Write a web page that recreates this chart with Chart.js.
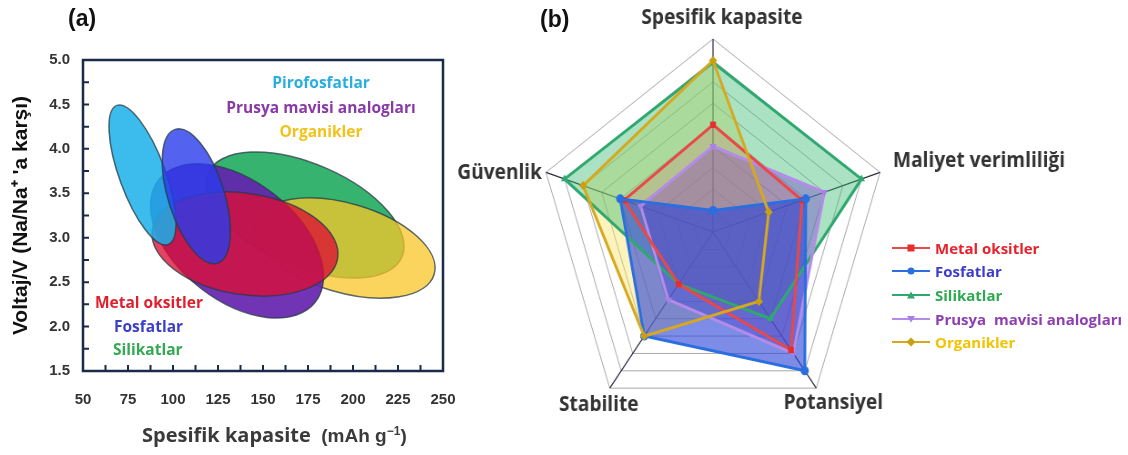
<!DOCTYPE html>
<html><head><meta charset="utf-8">
<script src="https://cdn.jsdelivr.net/npm/chart.js@4.4.1/dist/chart.umd.min.js"></script>
<style>
body{margin:0;width:1128px;height:455px;overflow:hidden;position:relative;background:#fff;font-family:"Open Sans",sans-serif}
.abs{position:absolute;white-space:pre;line-height:1}
.ann{font-family:"Open Sans",sans-serif;font-weight:700;font-size:15.5px}
#leg{position:absolute;left:892px;top:236px}
#leg .it{display:flex;align-items:center;height:23.6px;white-space:pre}
#leg .tx{font-family:"Open Sans",sans-serif;font-weight:700;font-size:15px;margin-left:5px}
</style></head><body>
<div id="pa" class="abs" style="left:0;top:0;width:460px;height:455px"><canvas id="ca" width="460" height="455"></canvas></div>
<div id="pb" class="abs" style="left:420px;top:0;width:740px;height:455px"><canvas id="cb" width="740" height="455"></canvas></div>

<div class="abs" style="left:68px;top:7px;font-family:'Liberation Sans',Arial;font-weight:bold;font-size:23px;color:#111">(a)</div>
<div class="abs" style="left:540px;top:8px;font-family:'Liberation Sans',Arial;font-weight:bold;font-size:23px;color:#111">(b)</div>

<div class="abs" style="left:142px;top:425px;color:#3a3a3a"><span style="font-family:'Open Sans';font-weight:700;font-size:20px">Spesifik kapasite</span><span style="font-family:'Liberation Sans',Arial;font-weight:bold;font-size:19px">  (mAh g<sup style="font-size:12px">−1</sup>)</span></div>

<div class="abs ann" style="left:321px;top:83px;transform:translate(-50%,-50%);color:#29aee0">Pirofosfatlar</div>
<div class="abs ann" style="left:321px;top:108px;transform:translate(-50%,-50%);color:#8a3aa6">Prusya mavisi analogları</div>
<div class="abs ann" style="left:321px;top:132px;transform:translate(-50%,-50%);color:#f3c21a">Organikler</div>
<div class="abs ann" style="left:95px;top:303px;transform:translateY(-50%);color:#e01e2c">Metal oksitler</div>
<div class="abs ann" style="left:114px;top:327px;transform:translateY(-50%);color:#3b3fc8">Fosfatlar</div>
<div class="abs ann" style="left:113px;top:350px;transform:translateY(-50%);color:#34a853">Silikatlar</div>

<div id="leg"></div>

<script>
// ---------- Panel (a): voltage vs specific capacity regions ----------
const capMajor = [50, 75, 100, 125, 150, 175, 200, 225, 250];
const voltMajor = [1.5, 2.0, 2.5, 3.0, 3.5, 4.0, 4.5, 5.0];

const ellipseNames   = ['Silikatlar', 'Organikler', 'Prusya mavisi analogları', 'Metal oksitler', 'Pirofosfatlar', 'Fosfatlar'];
const capLow         = [119.5, 146.1, 92.0, 88.5, 68.8, 101.2];   // capacity at one end of long axis
const voltAtCapLow   = [3.727, 3.179, 3.651, 3.089, 4.489, 4.219];
const capHigh        = [227.2, 245.1, 179.1, 191.5, 97.3, 124.7]; // capacity at other end of long axis
const voltAtCapHigh  = [2.784, 2.589, 2.276, 2.770, 2.923, 2.713];
const widthRatio     = [0.486, 0.48, 0.60, 0.54, 0.31, 0.40];
const ellipseFill    = ['rgba(38,172,100,0.92)', 'rgba(250,198,40,0.75)', 'rgba(100,35,175,0.92)',
                        'rgba(220,14,52,0.78)', 'rgba(28,176,234,0.86)', 'rgba(40,60,235,0.80)'];

// ---------- Panel (b): radar ----------
const radarAxes = ['Spesifik kapasite', 'Maliyet verimliliği', 'Potansiyel', 'Stabilite', 'Güvenlik'];
const metalOksitler = [5, 4.8, 6.8, 3, 4.8];
const fosfatlar     = [1, 5, 8, 6, 5];
const silikatlar    = [7.9, 8, 5, 3, 8];
const prusyaMavisi  = [4, 6, 7, 3.9, 3.9];
const organikler    = [8, 3, 4, 6, 7];
const seriesNames   = ['Metal oksitler', 'Fosfatlar', 'Silikatlar', 'Prusya  mavisi analogları', 'Organikler'];

const SX = 0.91;

function withMinor(arr){
  const out=[];
  arr.forEach((v,i)=>{ out.push(v); if(i<arr.length-1) out.push((v+arr[i+1])/2); });
  return out;
}

const ellipsePlugin = {
  id:'ellipses',
  beforeDatasetsDraw(chart){
    const {ctx, chartArea:a, scales:{x,y}} = chart;
    ctx.save();
    ctx.beginPath(); ctx.rect(a.left,a.top,a.width,a.height); ctx.clip();
    ellipseNames.forEach((n,i)=>{
      const x1=x.getPixelForValue(capLow[i]), y1=y.getPixelForValue(voltAtCapLow[i]);
      const x2=x.getPixelForValue(capHigh[i]), y2=y.getPixelForValue(voltAtCapHigh[i]);
      const cx=(x1+x2)/2, cy=(y1+y2)/2, rx=Math.hypot(x2-x1,y2-y1)/2, ry=rx*widthRatio[i];
      const rot=Math.atan2(y2-y1,x2-x1);
      ctx.beginPath(); ctx.ellipse(cx,cy,rx,ry,rot,0,Math.PI*2);
      ctx.fillStyle=ellipseFill[i]; ctx.fill();
      ctx.lineWidth=1.5; ctx.strokeStyle='rgba(40,60,70,0.75)'; ctx.stroke();
    });
    ctx.restore();
  }
};

const framePlugin = {
  id:'frame',
  afterDraw(chart){
    const {ctx, chartArea:a, scales:{x,y}} = chart;
    ctx.save();
    ctx.strokeStyle='#1b2a48'; ctx.lineWidth=2;
    ctx.beginPath();
    x.ticks.forEach(t=>{ const p=x.getPixelForValue(t.value); ctx.moveTo(p,a.bottom); ctx.lineTo(p,a.bottom-6); });
    y.ticks.forEach(t=>{ const p=y.getPixelForValue(t.value); ctx.moveTo(a.left,p); ctx.lineTo(a.left+6,p); });
    ctx.stroke();
    ctx.lineWidth=2.5;
    ctx.strokeRect(a.left,a.top,a.width,a.height);
    ctx.restore();
  }
};

const tickFont = {family:"'Liberation Sans', Arial", size:15, weight:'bold'};

new Chart(document.getElementById('ca'), {
  type:'scatter',
  data:{datasets:[]},
  options:{
    responsive:false, animation:false, events:[],
    layout:{padding:{top:60,right:17,left:0,bottom:0}},
    plugins:{legend:{display:false}, tooltip:{enabled:false}},
    scales:{
      x:{type:'linear', min:50, max:250,
         afterBuildTicks(s){ s.ticks = withMinor(capMajor).map(v=>({value:v})); },
         afterFit(s){ s.height = 84; s.paddingLeft = 0; s.paddingRight = 0; },
         grid:{display:false, drawTicks:false}, border:{display:false},
         ticks:{autoSkip:false, maxRotation:0, padding:20, color:'#333', font:tickFont,
                callback:v=>capMajor.includes(v)?String(v):''}},
      y:{type:'linear', min:1.5, max:5.0,
         afterBuildTicks(s){ s.ticks = withMinor(voltMajor).map(v=>({value:v})); },
         afterFit(s){ s.width = 83; s.paddingTop = 0; s.paddingBottom = 0; },
         grid:{display:false, drawTicks:false}, border:{display:false},
         ticks:{autoSkip:false, padding:13, color:'#333', font:tickFont,
                callback:v=>voltMajor.includes(v)?v.toFixed(1):''},
         title:{display:true, text:"Voltaj/V (Na/Na⁺ 'a karşı)", color:'#111',
                font:{family:"'Liberation Sans', Arial", size:21, weight:'bold'}, padding:{top:9,bottom:0}}}
    }
  },
  plugins:[ellipsePlugin, framePlugin]
});

// ---------- radar ----------
const pb = document.getElementById('pb');
const radarCenterX = 100 + 193;
pb.style.transformOrigin = radarCenterX + 'px 0px';
pb.style.transform = 'scaleX(' + SX + ')';

const labelPlacement = [
  {dx:9,  dy:-21, align:'center'},
  {dx:13, dy:-11, align:'left'},
  {dx:17, dy:15,  align:'center'},
  {dx:-11,dy:17,  align:'center'},
  {dx:-4, dy:1,   align:'right'}
];

const radarLabelPlugin = {
  id:'radarLabels',
  afterDraw(chart){
    const {ctx} = chart; const s = chart.scales.r;
    ctx.save();
    ctx.font = "bold 21px 'Open Sans'"; ctx.fillStyle='#333'; ctx.textBaseline='middle';
    radarAxes.forEach((t,i)=>{
      const p = s.getPointPosition(i, s.drawingArea); const o = labelPlacement[i];
      ctx.textAlign = o.align;
      ctx.fillText(t, p.x + o.dx/SX, p.y + o.dy);
    });
    ctx.restore();
  }
};

const lineColors  = ['#e84848', '#2a6ee0', '#2fa870', '#b48ce8', '#d6a820'];
const pointColors = ['#e52e2e', '#2a6ee0', '#2fa870', '#a880e6', '#c9a010'];
const fillColors  = ['rgba(225,85,85,0.20)', 'rgba(45,70,215,0.62)', 'rgba(55,185,115,0.42)',
                     'rgba(125,95,200,0.50)', 'rgba(250,225,90,0.40)'];
const pointStyles = ['rect', 'circle', 'triangle', 'triangle', 'rectRot'];
const pointRot    = [0, 0, 0, 180, 0];
const fillOrder   = [2, 1, 4, 3, 10];   // fills stacked: organic (bottom), green, purple, red, blue (top)
const lineOrder   = [2, 1, 4, 3, 0];    // lines: organic on top
const seriesData  = [metalOksitler, fosfatlar, silikatlar, prusyaMavisi, organikler];
const legendText  = ['#e8212b', '#3c3cc8', '#2fa84f', '#8e3fae', '#f2c300'];

const radarSets = seriesData.map((d,i)=>({
  label: seriesNames[i], data: d, fill: i !== 4,
  borderColor: lineColors[i], backgroundColor: fillColors[i], borderWidth: 3,
  pointStyle: pointStyles[i], pointRotation: pointRot[i], pointRadius: 4.5,
  pointBackgroundColor: pointColors[i], pointBorderColor: pointColors[i], pointBorderWidth: 0,
  order: i === 4 ? lineOrder[i] : fillOrder[i]
}));
// separate area layer for Organikler so its fill sits under the others while its line stays on top
radarSets.push({
  label: seriesNames[4] + ' (alan)', data: organikler, fill: true,
  borderWidth: 0, borderColor: 'rgba(0,0,0,0)', backgroundColor: fillColors[4],
  pointRadius: 0, order: fillOrder[4]
});

new Chart(document.getElementById('cb'), {
  type:'radar',
  data:{ labels: radarAxes, datasets: radarSets },
  options:{
    responsive:false, animation:false, events:[],
    layout:{padding:{left:100, top:39, right:254, bottom:30}},
    plugins:{legend:{display:false}, tooltip:{enabled:false}, filler:{drawTime:'beforeDatasetsDraw'}},
    scales:{r:{min:0, max:9, ticks:{display:false, stepSize:1},
      grid:{color:'#a8a8a8', lineWidth:1}, angleLines:{color:'#2a2a3a', lineWidth:1.2},
      pointLabels:{display:false}}}
  },
  plugins:[radarLabelPlugin]
});

// ---------- legend (b) ----------
const markerSvg = (i)=>{
  const c = pointColors[i], l = lineColors[i];
  let m = '';
  if (pointStyles[i]==='rect') m = `<rect x="15.5" y="2.5" width="7" height="7" fill="${c}"/>`;
  else if (pointStyles[i]==='circle') m = `<circle cx="19" cy="6" r="3.5" fill="${c}"/>`;
  else if (pointStyles[i]==='rectRot') m = `<polygon points="19,1.5 23.5,6 19,10.5 14.5,6" fill="${c}"/>`;
  else if (pointRot[i]===180) m = `<polygon points="15,3 23,3 19,9.5" fill="${c}"/>`;
  else m = `<polygon points="15,9.5 23,9.5 19,2.5" fill="${c}"/>`;
  return `<svg width="38" height="12"><line x1="0" y1="6" x2="38" y2="6" stroke="${l}" stroke-width="2"/>${m}</svg>`;
};
document.getElementById('leg').innerHTML = seriesNames.map((n,i)=>
  `<div class="it">${markerSvg(i)}<span class="tx" style="color:${legendText[i]}">${n}</span></div>`).join('');
</script>
</body></html>
